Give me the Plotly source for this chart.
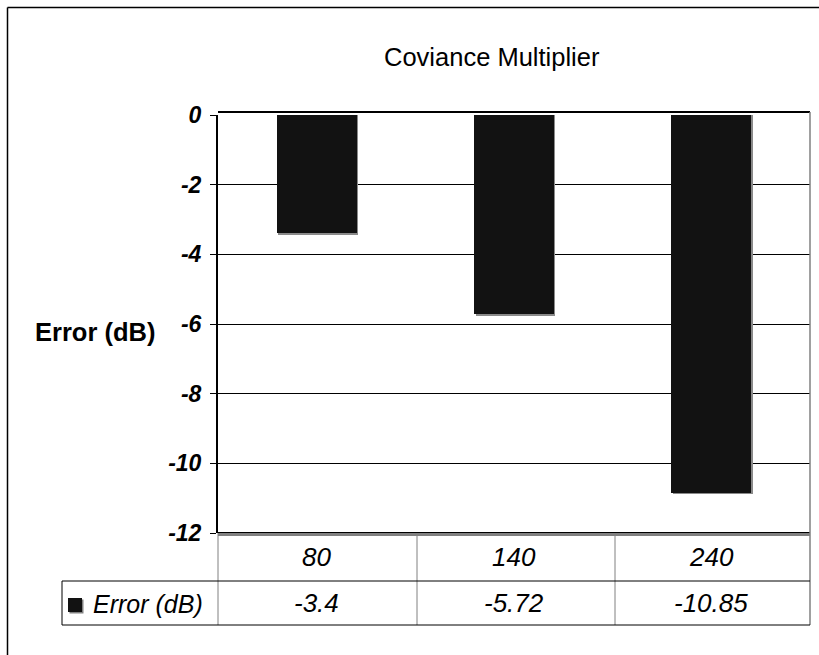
import plotly.graph_objects as go

# ---- data ----
categories = ["80", "140", "240"]
series_name = "Error (dB)"
values = [-3.4, -5.72, -10.85]
value_labels = ["-3.4", "-5.72", "-10.85"]
y_ticks = [0, -2, -4, -6, -8, -10, -12]
y_tick_labels = ["0", "-2", "-4", "-6", "-8", "-10", "-12"]
title_text = "Coviance Multiplier"
y_title = "Error (dB)"

W, H = 819, 655
L, R, T, B = 218, 9, 115, 122
PW = W - L - R
PH = H - T - B
FONT = "Liberation Sans, Arial, sans-serif"


def px(x):
    return (x - L) / PW


def py(y):
    return (H - B - y) / PH


xs = list(range(len(categories)))
bar_w = 0.405
unit_x = PW / len(categories)
unit_y = PH / 12.0
shadow_dx = 1.5 / unit_x
shadow_dy = 1.5 / unit_y

fig = go.Figure()
# shadow
fig.add_trace(go.Bar(
    x=xs, y=[v - shadow_dy for v in values], width=bar_w,
    offset=-bar_w / 2 + shadow_dx,
    marker=dict(color="#8a8a8a", line=dict(width=0)),
    hoverinfo="skip", showlegend=False,
))
# bars
fig.add_trace(go.Bar(
    x=xs, y=values, width=bar_w, offset=-bar_w / 2,
    marker=dict(color="#121212", line=dict(width=0)),
    name=series_name, showlegend=False,
))

shapes = []
black = "#000000"
grey = "#808080"


def line(x0, y0, x1, y1, color=black, width=1):
    shapes.append(dict(type="line", xref="paper", yref="paper",
                       x0=px(x0), y0=py(y0), x1=px(x1), y1=py(y1),
                       line=dict(color=color, width=width), layer="above"))


# outer chart border (top and left)
line(7.5, 7.5, 819, 7.5, black, 1.5)
line(7.5, 7.5, 7.5, 655, black, 1.5)
# plot area top border (double line)
line(218, 112, 810, 112, black, 2)
# floor: black line + grey thick shadow
line(218, 534.5, 810, 534.5, grey, 3)
line(218, 532.5, 810, 532.5, black, 1)
# right border of plot + table
line(810, 112, 810, 625, grey, 1.5)
# table
line(218, 533, 218, 625, grey, 1)
line(417, 536, 417, 625, grey, 1)
line(615, 536, 615, 625, grey, 1)
line(62, 581, 810, 581, black, 1)
line(62, 625, 810, 625, black, 1)
line(62, 581, 62, 625, black, 1)
# legend key (shadow + square)
shapes.append(dict(type="rect", xref="paper", yref="paper",
                   x0=px(69.5), y0=py(613.5), x1=px(83.5), y1=py(599.5),
                   fillcolor="#808080", line=dict(width=0)))
shapes.append(dict(type="rect", xref="paper", yref="paper",
                   x0=px(68), y0=py(612), x1=px(82), y1=py(598),
                   fillcolor="#121212", line=dict(width=0)))

annotations = []
annotations.append(dict(text=title_text, xref="paper", yref="paper",
                        x=px(492), y=py(57), showarrow=False,
                        xanchor="center", yanchor="middle",
                        font=dict(family=FONT, size=25.5, color="black")))
annotations.append(dict(text=y_title, xref="paper", yref="paper",
                        x=px(95), y=py(332), showarrow=False,
                        xanchor="center", yanchor="middle",
                        font=dict(family=FONT, size=25.5, color="black", weight="bold")))
for i, c in enumerate(categories):
    annotations.append(dict(text=c, xref="x", yref="paper", x=xs[i], y=py(557),
                            showarrow=False, xanchor="center", yanchor="middle",
                            font=dict(family=FONT, size=26, color="black", style="italic")))
    annotations.append(dict(text=value_labels[i], xref="x", yref="paper", x=xs[i], y=py(603),
                            showarrow=False, xanchor="center", yanchor="middle",
                            font=dict(family=FONT, size=26, color="black", style="italic")))
annotations.append(dict(text=series_name, xref="paper", yref="paper",
                        x=px(91), y=py(604), showarrow=False,
                        xanchor="left", yanchor="middle",
                        font=dict(family=FONT, size=25, color="black", style="italic")))

fig.update_layout(
    width=W, height=H,
    margin=dict(l=L, r=R, t=T, b=B, pad=0),
    paper_bgcolor="white", plot_bgcolor="white",
    barmode="overlay", bargap=0,
    shapes=shapes, annotations=annotations,
    showlegend=False,
    xaxis=dict(range=[-0.5, len(categories) - 0.5], showticklabels=False,
               showgrid=False, zeroline=False, showline=False, ticks="", fixedrange=True),
    yaxis=dict(range=[-12, 0], tickvals=y_ticks, ticktext=y_tick_labels,
               showgrid=True, gridcolor="black", gridwidth=1, zeroline=False,
               showline=True, linecolor="black", linewidth=2,
               ticks="outside", ticklen=6, tickcolor="black", tickwidth=1,
               ticklabelstandoff=4,
               tickfont=dict(family=FONT, size=23, color="black",
                             weight="bold", style="italic"),
               fixedrange=True),
)

fig.write_html("out.html",
               config={"displayModeBar": False},
               post_script="document.body.style.margin='0';document.body.style.padding='0';")
